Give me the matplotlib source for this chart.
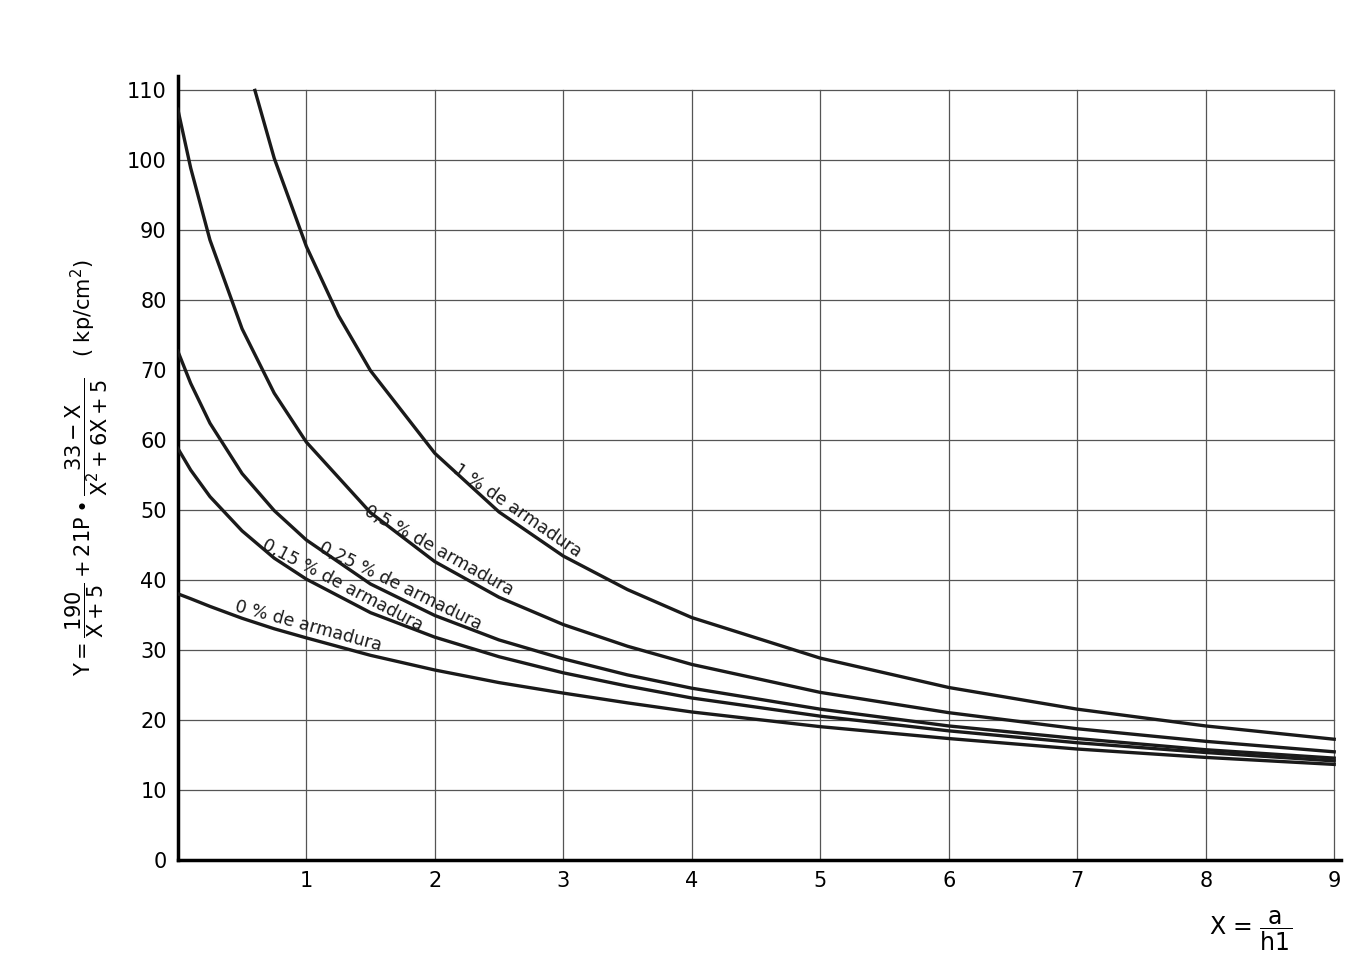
import numpy as np
import matplotlib.pyplot as plt

plt.rcParams['mathtext.default'] = 'regular'

# readings, X = a/h1, Y in kp/cm2
x_vals = [0, 0.1, 0.25, 0.5, 0.75, 1, 1.5, 2, 2.5, 3, 3.5, 4, 5, 6, 7, 8, 9]
y_0 = [38.0, 37.3, 36.2, 34.5, 33.0, 31.7, 29.2, 27.1, 25.3, 23.8, 22.4, 21.1, 19.0, 17.3, 15.8, 14.6, 13.6]
y_015 = [58.8, 55.7, 51.9, 47.0, 43.1, 40.1, 35.3, 31.8, 29.0, 26.7, 24.8, 23.1, 20.5, 18.4, 16.7, 15.3, 14.1]
y_025 = [72.7, 68.1, 62.4, 55.2, 49.9, 45.7, 39.4, 34.9, 31.4, 28.7, 26.4, 24.5, 21.5, 19.1, 17.3, 15.7, 14.5]
y_05 = [107.3, 98.9, 88.6, 75.9, 66.7, 59.7, 49.6, 42.6, 37.5, 33.6, 30.5, 27.9, 23.9, 21.0, 18.7, 16.9, 15.4]

x_one = [0.6, 0.75, 1, 1.25, 1.5, 2, 2.5, 3, 3.5, 4, 5, 6, 7, 8, 9]
y_1 = [110.0, 100.3, 87.7, 77.8, 69.9, 58.1, 49.7, 43.4, 38.6, 34.6, 28.8, 24.6, 21.5, 19.1, 17.2]

labels = ['1 % de armadura', '0,5 % de armadura', '0,25 % de armadura',
          '0,15 % de armadura', '0 % de armadura']
label_x = [2.6, 2.0, 1.7, 1.25, 1.0]

x_ticks = [1, 2, 3, 4, 5, 6, 7, 8, 9]
y_ticks = [0, 10, 20, 30, 40, 50, 60, 70, 80, 90, 100, 110]

fig = plt.figure(figsize=(13.68, 9.55), dpi=100)
ax = fig.add_axes([0.13, 0.1, 0.85, 0.82])
ax.set_xlim(0, 9.05)
ax.set_ylim(0, 112)

# grid
for yv in y_ticks[1:]:
    ax.plot([0, 9], [yv, yv], color='#555555', lw=0.9, zorder=1)
for xv in x_ticks:
    ax.plot([xv, xv], [0, 110], color='#555555', lw=0.9, zorder=1)

series = [(x_one, y_1), (x_vals, y_05), (x_vals, y_025), (x_vals, y_015), (x_vals, y_0)]
for (xs, ys), lab, lx in zip(series, labels, label_x):
    ax.plot(xs, ys, color='#1a1a1a', lw=2.4, zorder=3)
    # slope of the curve at the label position, in screen space
    ly = np.interp(lx, xs, ys)
    lx2 = lx + 0.05
    ly2 = np.interp(lx2, xs, ys)
    p1 = ax.transData.transform((lx, ly))
    p2 = ax.transData.transform((lx2, ly2))
    ang = np.degrees(np.arctan2(p2[1] - p1[1], p2[0] - p1[0]))
    ax.annotate(lab, (lx, ly), xytext=(0, 2), textcoords='offset points',
                rotation=ang, rotation_mode='anchor', ha='center', va='bottom',
                fontsize=12.5, color='#1a1a1a', zorder=4)

for s in ['top', 'right']:
    ax.spines[s].set_visible(False)
ax.spines['left'].set_linewidth(2.5)
ax.spines['bottom'].set_linewidth(2.5)
ax.tick_params(length=0, labelsize=15, pad=8)
ax.set_xticks(x_ticks)
ax.set_yticks(y_ticks)

ax.text(8.35, -7, r'X = $\dfrac{a}{h1}$', fontsize=17, ha='center', va='top')
ax.set_ylabel(r'$Y=\dfrac{190}{X+5}+21P\bullet\dfrac{33-X}{X^2+6X+5}$   ( kp/cm$^2$)',
              fontsize=15, labelpad=12)

fig.savefig('out.png', dpi=100)
